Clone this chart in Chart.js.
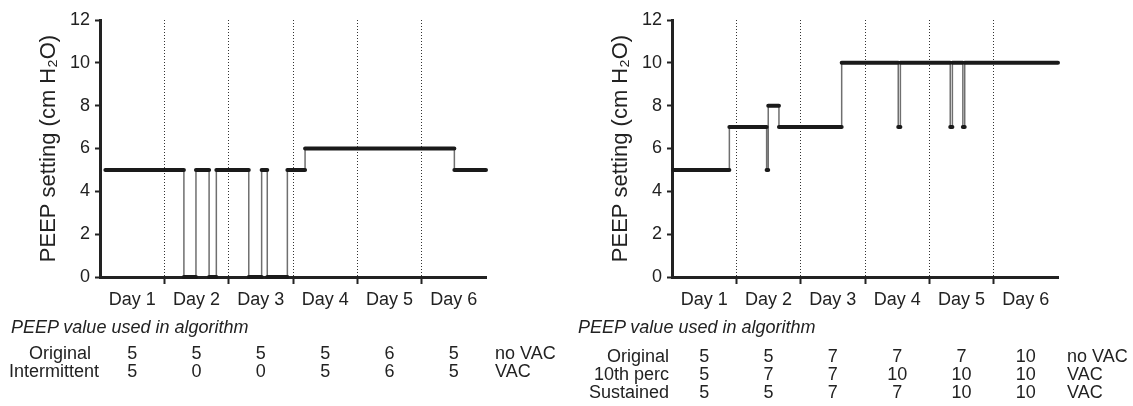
<!DOCTYPE html>
<html>
<head>
<meta charset="utf-8">
<script src="https://cdn.jsdelivr.net/npm/chart.js@4"></script>
<style>
  body { margin: 0; width: 1133px; height: 406px; background: #fff; position: relative; overflow: hidden; }
  canvas { position: absolute; top: 0; }
  .t { position: absolute; font: 18px "Liberation Sans", Arial, sans-serif; line-height: 18px; color: #222; white-space: nowrap; }
  .hd { font-style: italic; }
  .c { transform: translateX(-50%); }
  .r { transform: translateX(-100%); }
</style>
</head>
<body>
<canvas id="left" width="566" height="320" style="left:0px"></canvas>
<canvas id="right" width="566" height="320" style="left:572px"></canvas>
<script>
// hours since start, value holds from times[i] to times[i+1]
const leftTimes = [2, 31.3, 35.8, 40.7, 43.4, 55.5, 60.3, 62.4, 69.9, 76.5, 132.2, 144];
const leftValues = [5, 0, 5, 0, 5, 0, 5, 0, 5, 6, 5];

const rightTimes = [0.5, 21.4, 35.3, 35.9, 39.9, 63.3, 84.4, 85.2, 103.8, 104.6, 108.5, 109.2, 144];
const rightValues = [5, 7, 5, 8, 7, 10, 7, 10, 7, 10, 7, 10];

const dayLabels = ['Day 1', 'Day 2', 'Day 3', 'Day 4', 'Day 5', 'Day 6'];
const yTitle = 'PEEP setting (cm H\u2082O)';
const tableTitle = 'PEEP value used in algorithm';

const leftRowLabels = ['Original', 'Intermittent'];
const leftRowValues = [
    [5, 5, 5, 5, 6, 5],
    [5, 0, 0, 5, 6, 5],
];
const leftRowTags = ['no VAC', 'VAC'];

const rightRowLabels = ['Original', '10th perc', 'Sustained'];
const rightRowValues = [
    [5, 5, 7, 7, 7, 10],
    [5, 7, 7, 10, 10, 10],
    [5, 5, 7, 7, 10, 10],
];
const rightRowTags = ['no VAC', 'VAC', 'VAC'];

const FONT = '"Liberation Sans", Arial, sans-serif';
const INK = '#222';

function levelPoints(times, values) {
    const pts = [];
    values.forEach((v, i) => {
        pts.push({ x: times[i], y: v }, { x: times[i + 1], y: v }, { x: times[i + 1], y: null });
    });
    return pts;
}

function stepPoints(times, values) {
    const pts = [];
    for (let i = 1; i < values.length; i++) {
        pts.push({ x: times[i], y: values[i - 1] }, { x: times[i], y: values[i] }, { x: times[i], y: null });
    }
    return pts;
}

const isBoundary = (v) => v % 24 === 0 && v > 0 && v < 144;

function makeChart(id, times, values) {
    return new Chart(document.getElementById(id), {
        type: 'line',
        data: {
            datasets: [
                {
                    data: levelPoints(times, values),
                    borderColor: '#1a1a1a',
                    borderWidth: 4,
                    borderCapStyle: 'round',
                    pointRadius: 0,
                    tension: 0,
                    clip: false,
                },
                {
                    data: stepPoints(times, values),
                    borderColor: '#6f6f6f',
                    borderWidth: 1.5,
                    pointRadius: 0,
                    tension: 0,
                    clip: false,
                },
            ],
        },
        options: {
            responsive: false,
            animation: false,
            devicePixelRatio: 1,
            layout: { padding: { left: 0, right: 80, top: 20, bottom: 0 } },
            plugins: { legend: { display: false }, tooltip: { enabled: false } },
            scales: {
                x: {
                    type: 'linear',
                    min: 0,
                    max: 144,
                    afterBuildTicks: (scale) => {
                        const t = [];
                        for (let h = 0; h <= 144; h += 12) t.push({ value: h });
                        scale.ticks = t;
                    },
                    afterFit: (scale) => { scale.height = 43; },
                    ticks: {
                        autoSkip: false,
                        maxRotation: 0,
                        padding: 5,
                        color: INK,
                        font: { family: FONT, size: 18 },
                        callback: (v) => (v % 24 === 12 ? dayLabels[(v - 12) / 24] : ''),
                    },
                    grid: {
                        color: (ctx) => (ctx.tick && isBoundary(ctx.tick.value) ? '#333' : 'rgba(0,0,0,0)'),
                        lineWidth: 1,
                        tickLength: 7,
                        tickWidth: 2,
                        tickColor: (ctx) => (ctx.tick && isBoundary(ctx.tick.value) ? INK : 'rgba(0,0,0,0)'),
                    },
                    border: { color: INK, width: 3, dash: [1, 2] },
                },
                y: {
                    min: 0,
                    max: 12,
                    afterFit: (scale) => { scale.width = 100; },
                    ticks: {
                        stepSize: 2,
                        padding: 5,
                        color: INK,
                        font: { family: FONT, size: 18 },
                    },
                    grid: {
                        drawOnChartArea: false,
                        tickLength: 5,
                        tickWidth: 2,
                        tickColor: INK,
                    },
                    border: { color: INK, width: 3 },
                    title: {
                        display: true,
                        text: yTitle,
                        color: INK,
                        font: { family: FONT, size: 22 },
                        padding: { top: 36, bottom: 0 },
                    },
                },
            },
        },
    });
}

const leftChart = makeChart('left', leftTimes, leftValues);
const rightChart = makeChart('right', rightTimes, rightValues);

function addText(text, x, baseline, cls) {
    const d = document.createElement('div');
    d.className = 't ' + (cls || '');
    d.textContent = text;
    d.style.left = x + 'px';
    d.style.top = (baseline - 15) + 'px';
    document.body.appendChild(d);
}

function buildTable(chart, offsetX, labels, rows, tags, opts) {
    const xs = chart.scales.x;
    const area = chart.chartArea;
    addText(tableTitle, opts.titleX, 333, 'hd');
    rows.forEach((row, r) => {
        const base = opts.rowBase[r];
        if (opts.labelRight) addText(labels[r], offsetX + area.left - 3, base, 'r');
        else addText(labels[r], opts.labelX[r], base);
        row.forEach((v, i) => {
            addText(String(v), offsetX + xs.getPixelForValue(12 + 24 * i), base, 'c');
        });
        addText(tags[r], offsetX + area.right + 9, base);
    });
}

buildTable(leftChart, 0, leftRowLabels, leftRowValues, leftRowTags, {
    titleX: 11, rowBase: [359, 377], labelX: [29, 9],
});
buildTable(rightChart, 572, rightRowLabels, rightRowValues, rightRowTags, {
    titleX: 578, rowBase: [361.5, 379.5, 398], labelRight: true,
});
</script>
</body>
</html>
